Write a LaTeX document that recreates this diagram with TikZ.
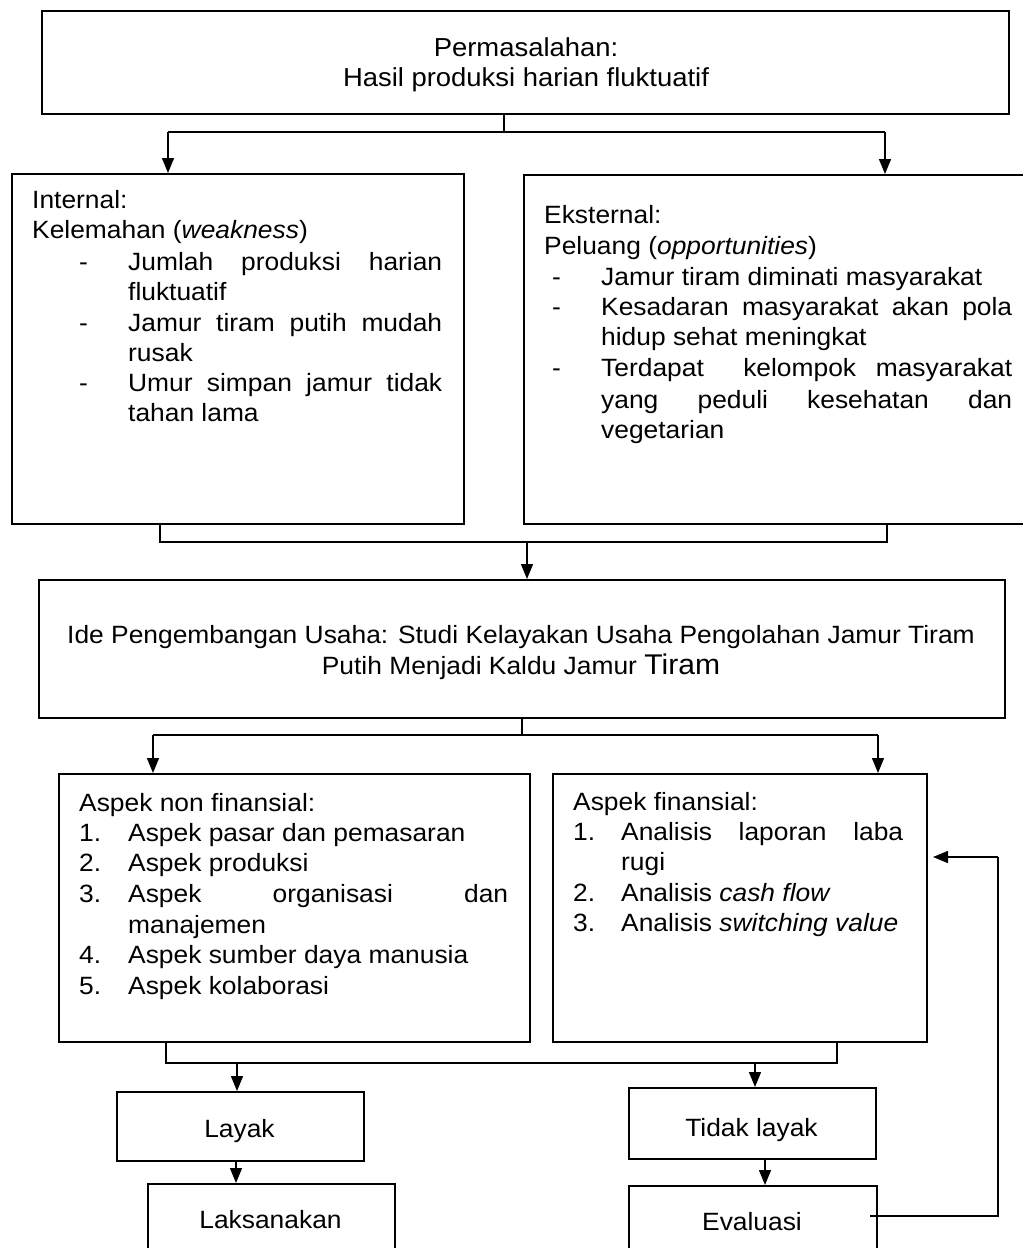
\documentclass[tikz,border=0pt]{standalone}
\usepackage{fontspec}
\setmainfont{Liberation Sans}[FakeStretch=1.055]
\usetikzlibrary{arrows.meta,calc}
\begin{document}
\begin{tikzpicture}[x=1pt,y=-1pt,
  box/.style={draw, line width=1.7pt, inner sep=0, anchor=north west},
  conn/.style={line width=1.4pt},
  arr/.style={line width=1.4pt, -{Triangle[length=15pt,width=12pt]}},
  txt/.style={anchor=base west, inner sep=0},
  ctr/.style={anchor=base, inner sep=0},
  every node/.style={font=\fontsize{25}{28}\selectfont}]
\useasboundingbox (0,0) rectangle (1023,1248);
\fill[white] (0,0) rectangle (1023,1248);
% boxes
\node[box, minimum width=967pt, minimum height=103pt] (top) at (41,10) {};
\node[box, minimum width=452pt, minimum height=350pt] (lb) at (11,173) {};
\node[box, minimum width=512pt, minimum height=349pt] (rb) at (523,174) {};
\node[box, minimum width=966pt, minimum height=138pt] (ide) at (38,579) {};
\node[box, minimum width=471pt, minimum height=268pt] (nf) at (58,773) {};
\node[box, minimum width=374pt, minimum height=268pt] (fin) at (552,773) {};
\node[box, minimum width=247pt, minimum height=69pt] (layak) at (116,1091) {};
\node[box, minimum width=247pt, minimum height=71pt] (tidak) at (628,1087) {};
\node[box, minimum width=247pt, minimum height=90pt] (laks) at (147,1183) {};
\node[box, minimum width=248pt, minimum height=90pt] (eval) at (628,1185) {};
% top text
\node[ctr, font=\fontsize{26}{28}\selectfont] (t1) at (526,56) {Permasalahan:};
\node[ctr, font=\fontsize{26}{28}\selectfont] (t2) at (526,86) {Hasil produksi harian fluktuatif};
% left box text
\node[txt] (l1) at (32,208.3) {Internal:};
\node[txt] (l2) at (32,238.5) {Kelemahan (\textit{weakness})};
\node[txt] (l3d) at (79,270) {-};
\node[txt] (l3) at (128,270) {\makebox[314pt][s]{Jumlah produksi harian}};
\node[txt] (l4) at (128,300) {fluktuatif};
\node[txt] (l5d) at (79,331.5) {-};
\node[txt] (l5) at (128,331.5) {\makebox[314pt][s]{Jamur tiram putih mudah}};
\node[txt] (l6) at (128,361.5) {rusak};
\node[txt] (l7d) at (79,391.7) {-};
\node[txt] (l7) at (128,391.7) {\makebox[314pt][s]{Umur simpan jamur tidak}};
\node[txt] (l8) at (128,421.7) {tahan lama};
% right box text
\node[txt] (r1) at (544,223.3) {Eksternal:};
\node[txt] (r2) at (544,254.3) {Peluang (\textit{opportunities})};
\node[txt] (r3d) at (552,285) {-};
\node[txt] (r3) at (601,285) {Jamur tiram diminati masyarakat};
\node[txt] (r4d) at (552,315.7) {-};
\node[txt] (r4) at (601,315.7) {\makebox[411pt][s]{Kesadaran masyarakat akan pola}};
\node[txt] (r5) at (601,345.7) {hidup sehat meningkat};
\node[txt] (r6d) at (552,376.7) {-};
\node[txt] (r6) at (601,376.7) {\makebox[411pt][s]{Terdapat\ \ kelompok masyarakat}};
\node[txt] (r7) at (601,408.3) {\makebox[411pt][s]{yang peduli kesehatan dan}};
\node[txt] (r8) at (601,438.3) {vegetarian};
% ide text
\node[ctr] (i1) at (521,643) {Ide Pengembangan Usaha: Studi Kelayakan Usaha Pengolahan Jamur Tiram};
\node[ctr] (i2) at (521,674) {Putih Menjadi Kaldu Jamur {\fontsize{28.5}{30}\selectfont Tiram}};
% non financial text
\node[txt] (n0) at (79,811.7) {Aspek non finansial:};
\node[txt] (n1d) at (79,841.7) {1.};
\node[txt] (n1) at (128,841.7) {Aspek pasar dan pemasaran};
\node[txt] (n2d) at (79,871.7) {2.};
\node[txt] (n2) at (128,871.7) {Aspek produksi};
\node[txt] (n3d) at (79,902.7) {3.};
\node[txt] (n3) at (128,902.7) {\makebox[380pt][s]{Aspek organisasi dan}};
\node[txt] (n3b) at (128,933.3) {manajemen};
\node[txt] (n4d) at (79,963.3) {4.};
\node[txt] (n4) at (128,963.3) {Aspek sumber daya manusia};
\node[txt] (n5d) at (79,994) {5.};
\node[txt] (n5) at (128,994) {Aspek kolaborasi};
% financial text
\node[txt] (f0) at (573,810) {Aspek finansial:};
\node[txt] (f1d) at (573,840) {1.};
\node[txt] (f1) at (621,840) {\makebox[282pt][s]{Analisis laporan laba}};
\node[txt] (f1b) at (621,870) {rugi};
\node[txt] (f2d) at (573,901) {2.};
\node[txt] (f2) at (621,901) {Analisis \textit{cash flow}};
\node[txt] (f3d) at (573,931) {3.};
\node[txt] (f3) at (621,931) {Analisis \textit{switching value}};
% bottom texts
\node[ctr] (tl) at (239.5,1137) {Layak};
\node[ctr] (tt) at (751.5,1136) {Tidak layak};
\node[ctr] (tk) at (270.5,1228) {Laksanakan};
\node[ctr] (te) at (752,1230) {Evaluasi};
% connectors
\coordinate (j1) at (504,132);
\coordinate (a1) at (168,132);
\coordinate (a2) at (885,132);
\draw[conn] (top.south -| j1) -- (j1);
\draw[conn] (a1) -- (a2);
\draw[arr] (a1) -- (a1 |- lb.north);
\draw[arr] (a2) -- (a2 |- rb.north);
\coordinate (b1) at (160,542);
\coordinate (b2) at (887,542);
\coordinate (b3) at (527,542);
\draw[conn] (b1 |- lb.south) -- (b1) -- (b2) -- (b2 |- rb.south);
\draw[arr] (b3) -- (b3 |- ide.north);
\coordinate (c0) at (522,735);
\coordinate (c1) at (153,735);
\coordinate (c2) at (878,735);
\draw[conn] (ide.south -| c0) -- (c0);
\draw[conn] (c1) -- (c2);
\draw[arr] (c1) -- (c1 |- nf.north);
\draw[arr] (c2) -- (c2 |- fin.north);
\coordinate (d1) at (166,1063);
\coordinate (d2) at (837,1063);
\coordinate (d3) at (237,1063);
\coordinate (d4) at (755,1063);
\draw[conn] (d1 |- nf.south) -- (d1) -- (d2) -- (d2 |- fin.south);
\draw[arr] (d3) -- (d3 |- layak.north);
\draw[arr] (d4) -- (d4 |- tidak.north);
\coordinate (e1) at (236,1160);
\draw[arr] (layak.south -| e1) -- (laks.north -| e1);
\coordinate (e2) at (765,1160);
\draw[arr] (tidak.south -| e2) -- (eval.north -| e2);
\coordinate (g1) at (870,1216);
\coordinate (g2) at (998,1216);
\coordinate (g3) at (998,857);
\coordinate (g4) at (933,857);
\draw[conn] (g1) -- (g2) -- (g3);
\draw[arr] (g3) -- (g4);
\end{tikzpicture}
\end{document}
